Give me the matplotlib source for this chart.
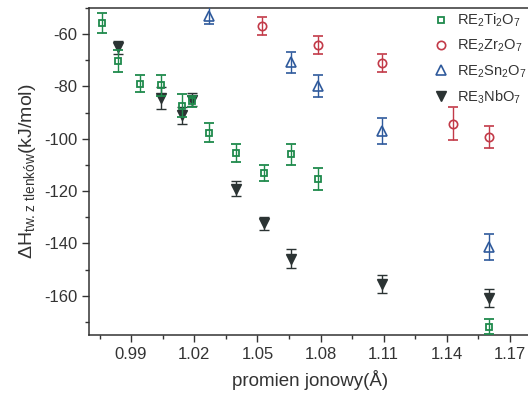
import numpy as np
import matplotlib
matplotlib.use("Agg")
import matplotlib.pyplot as plt
from matplotlib.ticker import MultipleLocator

plt.rcParams['font.family'] = ['Liberation Sans', 'DejaVu Sans']
plt.rcParams['mathtext.default'] = 'regular'
plt.rcParams['axes.unicode_minus'] = False

# data
ti_x = [0.976, 0.984, 0.994, 1.004, 1.014, 1.019, 1.027, 1.040, 1.053, 1.066, 1.079, 1.160]
ti_y = [-55.8, -70.4, -79.0, -79.5, -87.3, -85.7, -97.7, -105.4, -113.0, -106.0, -115.4, -171.9]
ti_err = [3.8, 4.2, 3.2, 4.0, 4.4, 2.0, 3.7, 3.3, 3.0, 4.2, 4.3, 2.9]

zr_x = [1.052, 1.079, 1.109, 1.143, 1.160]
zr_y = [-57.0, -64.2, -71.0, -94.2, -99.3]
zr_err = [3.5, 3.5, 3.4, 6.2, 4.2]

sn_x = [1.027, 1.066, 1.079, 1.109, 1.160]
sn_y = [-53.0, -70.8, -80.0, -97.0, -141.5]
sn_err = [3.3, 4.0, 4.2, 5.1, 5.0]

nb_x = [0.984, 1.004, 1.014, 1.019, 1.040, 1.053, 1.066, 1.109, 1.160]
nb_y = [-65.0, -84.3, -91.0, -85.0, -119.0, -132.3, -145.8, -155.4, -161.0]
nb_err = [2.5, 4.2, 3.3, 2.4, 2.7, 2.5, 3.5, 3.5, 3.4]

fig = plt.figure(figsize=(5.28, 3.98), dpi=100)
ax = fig.add_axes([89/528, 1-335/398, (531-89)/528, 327/398])

# Nb first so it sits under the others like in the original
ax.errorbar(nb_x, nb_y, yerr=nb_err, fmt='v', color='#2b3333', ms=6.5,
            capsize=3.5, elinewidth=1, capthick=1, label=r'RE$_3$NbO$_7$', zorder=2)
ax.errorbar(ti_x, ti_y, yerr=ti_err, fmt='s', color='#1f8a4c', mfc='none', mew=1.3, ms=5,
            capsize=3.5, elinewidth=1, capthick=1, label=r'RE$_2$Ti$_2$O$_7$', zorder=3)
ax.errorbar(zr_x, zr_y, yerr=zr_err, fmt='o', color='#c23a48', mfc='none', mew=1.2, ms=6,
            capsize=3.5, elinewidth=1, capthick=1, label=r'RE$_2$Zr$_2$O$_7$', zorder=3)
ax.errorbar(sn_x, sn_y, yerr=sn_err, fmt='^', color='#2f5a9c', mfc='none', mew=1.2, ms=7,
            capsize=3.5, elinewidth=1, capthick=1, label=r'RE$_2$Sn$_2$O$_7$', zorder=3)

ax.set_xlim(0.97, 1.18)
ax.set_ylim(-175, -50)
ax.xaxis.set_major_locator(MultipleLocator(0.03))
ax.xaxis.set_minor_locator(MultipleLocator(0.015))
ax.yaxis.set_major_locator(MultipleLocator(20))
ax.yaxis.set_minor_locator(MultipleLocator(10))
ax.set_xticks([0.99, 1.02, 1.05, 1.08, 1.11, 1.14, 1.17])
ax.set_xticklabels(['0.99', '1.02', '1.05', '1.08', '1.11', '1.14', '1.17'])
ax.tick_params(which='major', direction='out', length=5, width=1, labelsize=12, colors='#333333')
ax.tick_params(which='minor', direction='out', length=3, width=1, colors='#333333')
for s in ax.spines.values():
    s.set_color('#333333')
    s.set_linewidth(1.1)

ax.set_xlabel('promien jonowy(Å)', fontsize=13.5, color='#333333', labelpad=6)
ax.set_ylabel(r'ΔH$_{tw.z\ tlenków}$(kJ/mol)', fontsize=14, color='#333333', labelpad=4)

h, l = ax.get_legend_handles_labels()
order = [1, 2, 3, 0]
leg = ax.legend([h[i][0] for i in order], [l[i] for i in order], loc='upper right',
                bbox_to_anchor=(1.01, 1.015), frameon=False, fontsize=10.5,
                handlelength=1.0, handletextpad=0.6, labelspacing=0.6, borderaxespad=0.2)
for t in leg.get_texts():
    t.set_color('#333333')

fig.savefig('out.png', dpi=100)
